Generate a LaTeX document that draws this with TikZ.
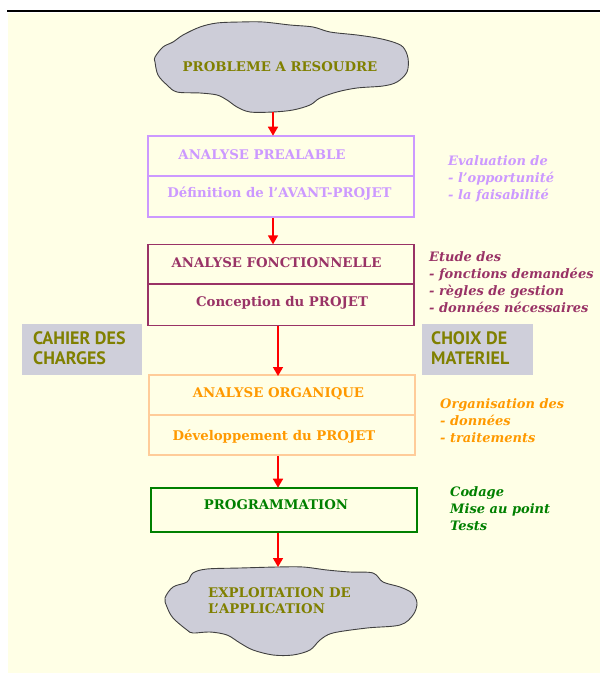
\documentclass[tikz,border=0pt]{standalone}
\usepackage{fontspec}
\newfontfamily\slabfont{DejaVu Serif}
\newfontfamily\labelsans{PT Sans}
\usetikzlibrary{arrows.meta}

\definecolor{paper}{HTML}{FFFFE6}
\definecolor{cloudgray}{HTML}{CDCDD8}
\definecolor{tagfill}{HTML}{CFCFDA}
\definecolor{olive}{HTML}{808000}
\definecolor{lilac}{HTML}{CC99FF}
\definecolor{maroon}{HTML}{993366}
\definecolor{amber}{HTML}{FF9900}
\definecolor{peach}{HTML}{FFCC99}
\definecolor{leaf}{HTML}{008000}
\definecolor{flowred}{HTML}{FF0000}

\tikzset{
  x=1pt, y=-1pt,
  stage/.style={draw=#1, line width=1.6pt, minimum width=266pt, inner sep=0pt},
  title/.style={text=#1, font=\slabfont\bfseries\fontsize{13.3}{15}\selectfont, inner sep=0pt},
  note/.style={text=#1, anchor=west, inner sep=0pt, align=left,
    font=\slabfont\bfseries\itshape\fontsize{13}{17}\selectfont},
  tag/.style={fill=tagfill, minimum width=#1, minimum height=51pt, inner sep=0pt},
  tagtext/.style={text=olive, anchor=west, align=left, inner sep=0pt,
    font=\labelsans\bfseries\fontsize{18}{19.5}\selectfont},
  cloud/.style={fill=cloudgray, draw=black!75, line width=0.9pt},
  flow/.style={draw=flowred, line width=1.6pt, -{Triangle[length=9pt,width=10pt,fill=flowred]}, shorten >=-0.5pt},
}

\begin{document}
\begin{tikzpicture}
\useasboundingbox (0,0) rectangle (600,674);
\fill[paper] (8,13) rectangle (600,673);
\draw[line width=2.5pt] (7,11) -- (600,11);

% start cloud
\draw[cloud] plot[smooth cycle, tension=0.55] coordinates {
  (155,57) (163,47) (173,42) (183,35) (200,27) (217,23) (240,22) (263,22)
  (290,25) (313,27) (330,32) (357,35) (377,38) (393,42) (403,47) (408,58)
  (407,72) (397,82) (383,86) (357,88) (337,92) (320,98) (310,105) (293,110)
  (273,112) (250,112) (237,107) (227,100) (217,95) (200,93) (177,92)
  (167,85) (158,75) (155,62)};
\node[title=olive] (start) at (280,67) {PROBLEME A RESOUDRE};
\coordinate (startbot) at (273,112);

% preliminary analysis
\node[stage=lilac, minimum height=81pt] (b1) at (281,176.5) {};
\draw[lilac, line width=1.6pt] (b1.west |- 0,176) -- (b1.east |- 0,176);
\node[title=lilac] (b1a) at (262,155) {ANALYSE PREALABLE};
\node[title=lilac] (b1b) at (279.5,194) {Définition de l’AVANT-PROJET};
\node[note=lilac] (n1) at (448,179) {Evaluation de\\- l’opportunité\\- la faisabilité};

% functional analysis
\node[stage=maroon, minimum height=81pt, line width=1.3pt] (b2) at (281,285) {};
\draw[maroon, line width=1.3pt] (b2.west |- 0,284) -- (b2.east |- 0,284);
\node[title=maroon] (b2a) at (276.5,263) {ANALYSE FONCTIONNELLE};
\node[title=maroon] (b2b) at (282,303) {Conception du PROJET};
\node[note=maroon] (n2) at (429,282.5) {Etude des\\- fonctions demandées\\- règles de gestion\\- données nécessaires};

% side tags
\node[tag=120pt] (t1) at (82,349.5) {};
\node[tagtext] (t1t) at (33,348) {CAHIER DES\\CHARGES};
\node[tag=111pt] (t2) at (477.5,349.5) {};
\node[tagtext] (t2t) at (431,348) {CHOIX DE\\MATERIEL};

% organic analysis
\node[stage=peach, minimum height=80pt] (b3) at (282,415) {};
\draw[peach, line width=1.6pt] (b3.west |- 0,415) -- (b3.east |- 0,415);
\node[title=amber] (b3a) at (278.5,394) {ANALYSE ORGANIQUE};
\node[title=amber] (b3b) at (274,437) {Développement du PROJET};
\node[note=amber] (n3) at (440,420.5) {Organisation des\\- données\\- traitements};

% programming
\node[stage=leaf, minimum height=44pt] (b4) at (284,510) {};
\node[title=leaf] (b4a) at (276,505) {PROGRAMMATION};
\node[note=leaf] (n4) at (450,509) {Codage\\Mise au point\\Tests};

% end cloud
\draw[cloud] plot[smooth cycle, tension=0.55] coordinates {
  (277,567) (240,568) (207,569) (193,573) (187,582) (173,587) (165,598)
  (167,607) (173,618) (187,630) (193,633) (210,632) (227,635) (240,643)
  (253,650) (273,655) (293,655) (310,650) (320,640) (333,633) (367,628)
  (400,625) (413,615) (417,603) (412,593) (400,587) (383,582) (373,573)
  (350,572) (327,570) (303,567)};
\node[title=olive, anchor=west, align=left, font=\slabfont\bfseries\fontsize{13.3}{16}\selectfont] (end) at (208,601) {EXPLOITATION DE\\L’APPLICATION};
\coordinate (endtop) at (278,566.5);

% flow arrows
\coordinate (a3from) at (278,326);
\coordinate (a3to) at (278,375.5);
\draw[flow] (startbot) -- (startbot |- b1.north);
\draw[flow] (b1.south -| startbot) -- (b2.north -| startbot);
\draw[flow] (a3from) -- (a3to);
\draw[flow] (b3.south -| endtop) -- (b4.north -| endtop);
\draw[flow] (b4.south -| endtop) -- (endtop);
\end{tikzpicture}
\end{document}
